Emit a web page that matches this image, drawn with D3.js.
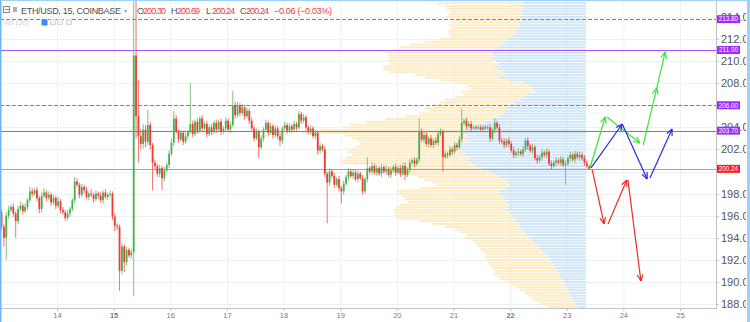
<!DOCTYPE html>
<html><head><meta charset="utf-8">
<script src="https://cdn.jsdelivr.net/npm/d3@7"></script>
<style>body{margin:0;background:#fff;overflow:hidden}svg{display:block;font-family:"Liberation Sans",Arial,sans-serif}</style>
</head><body><svg id="c" width="750" height="322"></svg>
<script>
// ---------- DATA ----------
const startDay = 13;          // first hourly candle (day of month)
const firstOpen = 196.3;
const closes = [
195.0,194.0,196.0,196.5,196.8,196.2,195.5,196.6,196.9,196.4,
196.8,197.4,198.2,198.0,198.3,197.6,196.6,197.8,198.1,197.6,
197.9,197.2,197.6,196.9,197.3,196.5,196.3,195.8,196.2,196.6,
197.4,199.1,198.8,197.9,198.6,198.3,197.7,198.0,197.9,197.5,
198.0,197.8,197.4,198.1,197.7,197.9,198.0,195.9,195.1,195.0,
191.0,193.2,191.8,192.9,192.4,192.7,210.5,205.0,203.2,202.5,
203.8,202.7,204.2,202.4,200.8,200.5,199.8,200.3,199.4,200.1,
200.6,201.6,202.6,204.8,203.6,202.9,203.5,202.7,203.2,203.6,
204.3,203.4,204.5,203.7,204.8,203.9,204.3,203.4,204.0,203.6,
204.4,203.8,204.5,203.6,203.9,204.6,203.8,204.2,206.0,205.1,
206.0,205.3,205.8,205.0,205.5,204.6,203.9,203.0,203.6,202.2,
203.0,203.8,204.4,203.5,204.1,203.3,203.9,203.2,202.8,203.9,
204.2,203.7,204.1,203.8,204.3,204.0,205.2,204.6,204.9,204.0,
203.6,203.9,203.2,203.5,201.9,202.3,202.0,199.8,199.0,200.0,
199.6,198.8,199.3,198.5,198.2,198.9,199.5,200.0,199.6,199.9,
199.3,199.8,199.4,198.2,199.3,200.3,200.0,200.5,199.9,200.3,
199.8,200.4,200.0,200.2,199.7,200.1,200.4,199.9,200.3,199.8,
200.5,199.7,200.2,200.8,201.0,200.7,201.1,203.6,202.9,203.3,
202.5,203.0,202.4,202.8,202.6,203.4,203.6,201.3,201.6,201.5,
202.0,201.8,202.4,202.2,202.9,204.4,204.6,204.1,204.3,203.9,
204.0,203.9,204.0,203.8,204.0,203.9,204.0,203.0,203.8,204.4,
204.0,202.8,202.7,202.4,202.8,202.5,201.9,201.5,201.7,201.8,
201.6,202.0,202.8,202.3,201.9,202.2,201.2,201.0,201.3,201.7,
201.5,201.8,200.7,200.5,200.8,201.0,200.8,201.1,200.6,200.7,
201.2,201.5,201.1,201.6,201.3,201.5,201.2,200.8,200.5,200.24];
const upWick = [
0.3,0.2,0.3,0.4,0.2,0.3,0.2,0.3,0.4,0.2, 0.3,0.2,0.4,0.3,0.2,0.3,0.2,0.3,0.4,0.2,
0.3,0.2,0.3,0.2,0.4,0.2,0.3,0.2,0.3,0.2, 0.2,0.4,0.3,0.2,0.3,0.2,0.3,0.2,0.4,0.2,
0.3,0.2,0.3,0.2,0.3,0.2,0.3,0.2,0.3,0.2, 0.2,0.3,0.2,0.3,0.2,0.3,5.3,5.0,3.3,0.6,
0.5,0.4,1.4,0.3,0.2,0.3,0.2,0.3,0.2,0.3, 0.2,0.3,0.4,0.7,0.3,0.2,0.3,0.2,0.3,0.2,
3.7,0.3,0.2,0.3,0.2,0.3,0.2,0.3,0.2,0.3, 0.2,0.3,0.2,0.3,0.2,0.3,0.2,0.3,1.3,0.3,
0.3,0.2,0.3,0.2,0.3,0.2,0.3,0.2,0.3,0.2, 0.3,0.2,0.3,0.2,0.3,0.2,0.3,0.2,0.3,0.2,
0.3,0.2,0.3,0.2,0.3,0.2,0.3,0.2,0.3,0.2, 0.2,0.3,0.2,0.3,0.2,0.3,0.2,0.3,0.2,0.3,
0.2,0.3,0.2,0.3,0.2,0.3,0.2,0.3,0.2,0.3, 0.2,0.3,0.2,0.3,0.2,1.0,0.2,0.3,0.2,0.3,
0.2,0.3,0.2,0.3,0.2,0.3,0.2,0.3,0.2,0.3, 0.2,0.3,0.2,0.3,0.2,0.3,0.2,1.2,0.3,0.2,
0.3,0.2,0.3,0.2,0.3,0.2,0.3,0.2,0.3,0.2, 0.3,0.2,0.3,0.2,0.3,1.3,0.2,0.3,0.2,0.3,
0.2,0.2,0.2,0.2,0.2,0.2,0.2,0.3,0.2,0.4, 0.2,0.3,0.2,0.3,0.2,0.3,0.2,0.3,0.2,0.3,
0.2,0.3,0.2,0.3,0.2,0.3,0.2,0.3,0.2,0.3, 0.2,0.3,0.2,0.3,0.2,0.3,0.2,0.3,0.2,0.3,
0.2,0.3,0.2,0.3,0.2,0.3,0.2,0.3,0.2,0.1];
const dnWick = [
0.3,0.8,2.0,0.3,0.2,0.3,1.5,0.3,0.2,0.3, 0.2,0.3,0.2,0.3,0.2,0.3,0.4,0.3,0.2,0.3,
0.2,0.3,0.2,0.3,0.2,0.3,0.2,0.3,0.2,0.3, 0.2,0.3,0.2,0.3,0.2,0.3,0.2,0.3,0.2,0.3,
0.2,0.3,0.2,0.3,0.2,0.3,0.2,0.3,0.5,0.3, 1.8,0.3,0.9,0.3,0.2,0.3,4.0,2.0,2.4,0.5,
0.4,0.5,0.3,0.4,2.5,0.3,0.3,0.3,1.1,0.3, 0.2,0.3,0.2,0.3,0.2,0.3,0.2,0.3,0.2,0.3,
0.2,0.3,0.2,0.3,0.2,0.3,0.2,0.3,0.2,0.3, 0.2,0.3,0.2,0.3,0.2,0.3,0.2,0.3,0.2,0.3,
0.2,0.3,0.2,0.3,0.2,0.3,0.2,0.3,0.2,1.0, 0.2,0.3,0.2,0.3,0.2,0.3,0.2,0.3,0.5,0.3,
0.2,0.3,0.2,0.3,0.2,0.3,0.2,0.3,0.2,0.3, 0.2,0.3,0.2,0.3,0.4,0.3,0.2,0.3,3.7,0.3,
0.2,0.3,0.2,0.3,1.1,0.3,0.2,0.3,0.2,0.3, 0.2,0.3,0.2,0.3,0.2,0.3,0.2,0.3,0.2,0.3,
0.2,0.3,0.2,0.3,0.2,0.3,0.2,0.3,0.2,0.3, 0.2,0.5,0.2,0.3,0.2,0.3,0.2,0.3,0.2,0.3,
0.2,0.3,0.2,0.3,0.2,0.3,0.2,1.3,0.2,0.3, 0.2,0.3,0.2,0.3,0.2,0.3,0.2,0.3,0.2,0.3,
0.1,0.1,0.1,0.1,0.1,0.1,0.1,0.3,0.2,0.3, 0.2,0.3,0.2,0.3,0.2,0.3,0.2,0.3,0.2,0.3,
0.2,0.3,0.2,0.3,0.2,0.3,0.2,0.3,0.2,0.3, 0.2,0.3,0.2,0.3,0.2,0.3,0.2,0.3,0.2,1.8,
0.2,0.3,0.2,0.3,0.2,0.3,0.2,0.3,0.2,0.1];

const dayTicks = [14,15,16,17,18,19,20,21,22,23,24,25];
const boldDayTicks = [15,22];
const priceTicks = [188,190,192,194,196,198,200,202,204,206,208,210,212,214];
const hiddenPriceTicks = [200,206];   // fully covered by price boxes in the original

const levelPrices = [213.80, 211.00, 206.00, 203.70];
const levelDashed = [true, false, true, false];
const lastPrice = 200.24;

// Visible-range volume profile, rows of 0.25 from 215.5 downward
const profileTop = 215.5, profileStep = 0.25;
const profileUp = [ // blue part
63,62,64,63,65,64,66,65,67,66, 68,70,71,74,78,81,84,88,91,94,
92,96,90,86,91,88,83,81,86,76, 61,56,53,51,58,62,66,71,76,78,
81,83,88,94,101,108,116,121,124,118, 121,116,124,128,126,123,121,116,118,114,
111,104,96,91,86,81,78,76,81,86, 86,83,81,79,76,78,81,76,74,71,
71,68,66,64,61,59,56,54,51,48, 46,43,41,38,36,34,31,30,28,26,
26,24,23,21,19,18,16,16,14,12,10,8];
const profileDown = [ // yellow part
93,86,77,76,71,74,74,71,67,71, 67,68,66,62,68,80,92,98,103,105,
106,101,110,110,112,114,114,90,75,70, 70,62,63,73,65,69,75,75,78,83,
75,83,93,107,120,128,127,145,159,123, 113,112,102,103,110,116,113,125,128,129,
90,99,100,95,82,80,76,74,85,103, 102,101,100,100,110,112,112,115,118,118,
95,86,75,67,65,60,65,60,60,60, 60,60,59,63,63,64,65,64,63,67,
63,62,58,55,52,48,45,42,40,39,36,30];

// Drawn arrows: [ [day, price] start, [day, price] end ]
const greenArrows = [[[23.41,200.32],[23.68,204.94]],[[23.71,204.94],[24.29,202.58]],[[24.35,202.40],[24.59,207.57]],[[24.59,207.57],[24.74,210.83]]];
const blueArrows  = [[[23.43,200.32],[23.98,204.30]],[[23.98,204.30],[24.42,199.32]],[[24.47,199.41],[24.86,203.85]]];
const redArrows   = [[[23.45,200.14],[23.66,195.25]],[[23.73,195.25],[24.06,199.23]],[[24.08,199.23],[24.31,190.08]]];

const header = {sym:"ETH/USD, 15, COINBASE", O:"200.30", H:"200.69", L:"200.24", C:"200.24", chg:"\u22120.06 (\u22120.03%)"};

// ---------- LAYOUT ----------
const svg = d3.select('#c');
const plotR = 716, plotB = 308, profileRight = 586;
const x = d3.scaleLinear().domain([14,25]).range([57,680]);
const y = d3.scaleLinear().domain([188,212]).range([304,39]);
const vol = d3.scaleLinear().domain([0,100]).range([0,100]);

svg.append('defs').append('clipPath').attr('id','plot').append('rect')
  .attr('x',0).attr('y',0).attr('width',plotR).attr('height',plotB);
svg.select('defs').append('clipPath').attr('id','axis').append('rect')
  .attr('x',plotR).attr('y',0).attr('width',746-plotR).attr('height',plotB+2);

const g = svg.append('g').attr('clip-path','url(#plot)');

// grid
g.selectAll('.gv').data(dayTicks).join('line').attr('class','gv')
  .attr('x1',d=>x(d)+0.5).attr('x2',d=>x(d)+0.5).attr('y1',0).attr('y2',plotB)
  .attr('stroke','#edf1f6').attr('stroke-width',1);
g.selectAll('.gh').data(priceTicks).join('line').attr('class','gh')
  .attr('y1',d=>Math.round(y(d))+0.5).attr('y2',d=>Math.round(y(d))+0.5).attr('x1',0).attr('x2',plotR)
  .attr('stroke','#edf1f6').attr('stroke-width',1);

// volume profile
const rows = profileUp.map((u,k)=>({p: profileTop - k*profileStep, up:u, dn:profileDown[k]}));
const rowTop = d=>y(d.p + profileStep/2)+0.4;
const rowH = d=>y(d.p - profileStep/2) - y(d.p + profileStep/2) - 0.8;
g.selectAll('.pu').data(rows).join('rect').attr('class','pu')
  .attr('x',d=>profileRight - vol(d.up)).attr('width',d=>vol(d.up))
  .attr('y',rowTop).attr('height',rowH).attr('fill','#cfe5f8');
g.selectAll('.pd').data(rows).join('rect').attr('class','pd')
  .attr('x',d=>profileRight - vol(d.up) - vol(d.dn)).attr('width',d=>vol(d.dn))
  .attr('y',rowTop).attr('height',rowH).attr('fill','#fdebc3');

// level lines
const levels = levelPrices.map((p,i)=>({p, dashed:levelDashed[i]}));
g.selectAll('.lv').data(levels).join('line').attr('class','lv')
  .attr('x1',0).attr('x2',plotR).attr('y1',d=>Math.round(y(d.p))+0.5).attr('y2',d=>Math.round(y(d.p))+0.5)
  .attr('stroke',d=>d.dashed?'#b94dff':'#a855ff').attr('stroke-width',1.1)
  .attr('stroke-dasharray',d=>d.dashed?'4,2':null);
g.append('line').attr('x1',0).attr('x2',plotR)
  .attr('y1',Math.round(y(lastPrice))+0.5).attr('y2',Math.round(y(lastPrice))+0.5)
  .attr('stroke','#f28080').attr('stroke-width',1);

// candles
const candles = closes.map((c,i)=>{
  const o = i===0 ? firstOpen : closes[i-1];
  return {t: startDay + (i+0.5)/24, o, c, h: Math.max(o,c)+upWick[i], l: Math.min(o,c)-dnWick[i]};
});
const upCol = '#4caf50', dnCol = '#ef3b36';
g.selectAll('.wk').data(candles).join('line').attr('class','wk')
  .attr('x1',d=>x(d.t)).attr('x2',d=>x(d.t)).attr('y1',d=>y(d.h)).attr('y2',d=>y(d.l))
  .attr('stroke',d=>d.c>=d.o?upCol:dnCol).attr('stroke-width',0.9).attr('opacity',0.8);
g.selectAll('.bd').data(candles).join('rect').attr('class','bd')
  .attr('x',d=>x(d.t)-0.9).attr('width',1.8)
  .attr('y',d=>y(Math.max(d.o,d.c))).attr('height',d=>Math.max(1,Math.abs(y(d.o)-y(d.c))))
  .attr('fill',d=>d.c>=d.o?upCol:dnCol);

// arrows
function drawArrows(list, color){
  list.forEach(seg=>{
    const [a,b] = seg;
    const x1=x(a[0]), y1=y(a[1]), x2=x(b[0]), y2=y(b[1]);
    g.append('line').attr('x1',x1).attr('y1',y1).attr('x2',x2).attr('y2',y2)
      .attr('stroke',color).attr('stroke-width',1.2);
    const ang = Math.atan2(y2-y1,x2-x1), L=7, sp=0.42;
    [ang+Math.PI-sp, ang+Math.PI+sp].forEach(t=>{
      g.append('line').attr('x1',x2).attr('y1',y2)
        .attr('x2',x2+L*Math.cos(t)).attr('y2',y2+L*Math.sin(t))
        .attr('stroke',color).attr('stroke-width',1.2);
    });
  });
}
drawArrows(greenArrows,'#39e639');
drawArrows(blueArrows,'#2a2ae8');
drawArrows(redArrows,'#ee2a2a');

// axes lines
svg.append('line').attr('x1',0).attr('x2',plotR).attr('y1',plotB+0.5).attr('y2',plotB+0.5).attr('stroke','#bfc3c8');
svg.append('line').attr('x1',plotR+0.5).attr('x2',plotR+0.5).attr('y1',0).attr('y2',plotB+1).attr('stroke','#bfc3c8');

// x axis ticks & labels
svg.selectAll('.xt').data(dayTicks).join('line').attr('class','xt')
  .attr('x1',d=>x(d)+0.5).attr('x2',d=>x(d)+0.5).attr('y1',plotB+1).attr('y2',plotB+3).attr('stroke','#bfc3c8');
svg.selectAll('.xl').data(dayTicks).join('text').attr('class','xl')
  .attr('x',d=>x(d)+0.5).attr('y',318).attr('text-anchor','middle')
  .attr('font-size',7.5).attr('fill','#7a7a7a')
  .attr('font-weight',d=>boldDayTicks.includes(d)?'bold':'normal')
  .text(d=>d);

// y axis labels
const ax = svg.append('g').attr('clip-path','url(#axis)');
ax.selectAll('.yt').data(priceTicks).join('line').attr('class','yt')
  .attr('x1',plotR).attr('x2',plotR+3).attr('y1',d=>Math.round(y(d))+0.5).attr('y2',d=>Math.round(y(d))+0.5).attr('stroke','#bfc3c8');
ax.selectAll('.yl').data(priceTicks.filter(d=>!hiddenPriceTicks.includes(d))).join('text').attr('class','yl')
  .attr('x',plotR+5).attr('y',d=>y(d)+4).attr('font-size',11).attr('fill','#555')
  .text(d=>d3.format('.2f')(d));

// price label boxes
function priceBox(p, color){
  const yy = y(p);
  ax.append('rect').attr('x',plotR+1).attr('y',yy-4).attr('width',23).attr('height',8).attr('fill',color);
  ax.append('text').attr('x',plotR+12.5).attr('y',yy+2.3).attr('text-anchor','middle')
    .attr('font-size',6.3).attr('fill','#fff').text(d3.format('.2f')(p));
}
levelPrices.forEach(p=>priceBox(p,'#9d2bff'));
priceBox(lastPrice,'#ff1c1c');

// header
const hd = svg.append('g').attr('font-size',9);
hd.append('rect').attr('x',3.5).attr('y',6.5).attr('width',6).attr('height',6).attr('fill','none').attr('stroke','#8a8a8a');
hd.append('line').attr('x1',5).attr('x2',9).attr('y1',9.5).attr('y2',9.5).attr('stroke','#8a8a8a');
hd.append('rect').attr('x',13).attr('y',7).attr('width',4).attr('height',5).attr('fill','#b0b0b0');
hd.append('text').attr('x',21).attr('y',14).attr('fill','#4d4d4d').attr('textLength',100).text(header.sym);
hd.append('text').attr('x',124).attr('y',13).attr('fill','#9a9a9a').attr('font-size',6).text('\u25BE');
const ohlc = [['O',137,header.O],['H',171,header.H],['L',206,header.L],['C',240,header.C]];
ohlc.forEach(([k,xx,v])=>{
  hd.append('text').attr('x',xx).attr('y',14).attr('fill','#555').text(k);
  hd.append('text').attr('x',xx+6).attr('y',14).attr('fill','#f03a3a').attr('textLength',23).text(v);
});
hd.append('text').attr('x',274).attr('y',14).attr('fill','#f03a3a').attr('textLength',58).text(header.chg);
// volume legend (faded)
hd.append('text').attr('x',3).attr('y',25).attr('font-size',7.5).attr('fill','#cfc8ea').text('Vol (20)');
hd.append('rect').attr('x',41.5).attr('y',19.5).attr('width',6).attr('height',6).attr('fill','#3d8bff');
[50,57,66].forEach(xx=>hd.append('rect').attr('x',xx+0.5).attr('y',19.5).attr('width',5).attr('height',5).attr('fill','#f2f2f2').attr('stroke','#d6d6d6'));

// window frame edges
svg.append('rect').attr('x',0).attr('y',0).attr('width',1.5).attr('height',322).attr('fill','#6cb6f5');
svg.append('rect').attr('x',747).attr('y',0).attr('width',3).attr('height',322).attr('fill','#9fd0f7');
svg.append('rect').attr('x',0).attr('y',0).attr('width',750).attr('height',1).attr('fill','#9fd0f7');
</script></body></html>
